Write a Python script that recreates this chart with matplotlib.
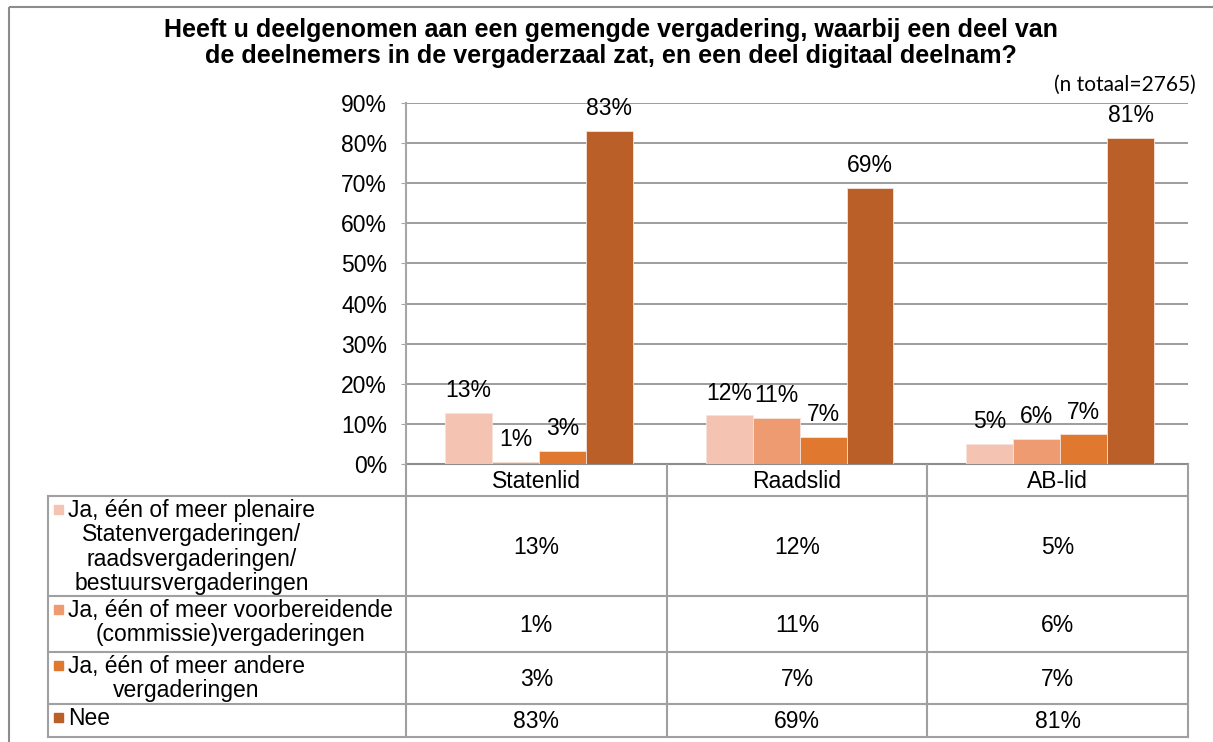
import matplotlib

matplotlib.use("Agg")
import matplotlib.pyplot as plt
import numpy as np
from matplotlib.patches import Rectangle

plt.rcParams["font.family"] = ["Liberation Sans", "DejaVu Sans"]

# data
categories = ["Statenlid", "Raadslid", "AB-lid"]
series_names = [
    "Ja, één of meer plenaire\nStatenvergaderingen/\nraadsvergaderingen/\nbestuursvergaderingen",
    "Ja, één of meer voorbereidende\n(commissie)vergaderingen",
    "Ja, één of meer andere\nvergaderingen",
    "Nee",
]
plenair = [12.7, 12.1, 5.0]
voorbereidend = [0.6, 11.5, 6.2]
andere = [3.2, 6.8, 7.4]
nee = [83.0, 68.9, 81.3]
labels_plenair = ["13%", "12%", "5%"]
labels_voorbereidend = ["1%", "11%", "6%"]
labels_andere = ["3%", "7%", "7%"]
labels_nee = ["83%", "69%", "81%"]
colors = ["#F5C3B1", "#EF9B72", "#E0782F", "#B95F27"]
yticks = [0, 10, 20, 30, 40, 50, 60, 70, 80, 90]

W, H = 1213, 742
fs = 16.5
fig = plt.figure(figsize=(W / 100, H / 100), dpi=100)

# pixel overlay for table, frame and texts
ov = fig.add_axes([0, 0, 1, 1])
ov.set_xlim(0, W)
ov.set_ylim(H, 0)
ov.axis("off")

x0, x1 = 406, 1188
y0, ytop = 464, 103
ax = fig.add_axes([x0 / W, (H - y0) / H, (x1 - x0) / W, (y0 - ytop) / H])

series = [plenair, voorbereidend, andere, nee]
series_labels = [labels_plenair, labels_voorbereidend, labels_andere, labels_nee]
x = np.arange(len(categories))
bw = 0.18
for i, (vals, labs) in enumerate(zip(series, series_labels)):
    xs = x + (i - 1.5) * bw + 0.01
    bars = ax.bar(xs, vals, width=bw, color=colors[i], edgecolor="#F7E3DA",
                  linewidth=0.6, zorder=3)
    for b, lab in zip(bars, labs):
        ax.annotate(lab, (b.get_x() + b.get_width() / 2, b.get_height()),
                    xytext=(0, 16), textcoords="offset points",
                    ha="center", va="center", fontsize=fs, zorder=4)

ax.set_xlim(-0.5, 2.5)
ax.set_ylim(0, 90)
ax.set_yticks(yticks)
ax.set_yticklabels([f"{t}%" for t in yticks], fontsize=fs)
ax.set_xticks([])
ax.grid(axis="y", color="#8C8C8C", linewidth=1.2, zorder=0)
for s in ["top", "right", "bottom"]:
    ax.spines[s].set_visible(False)
ax.spines["left"].set_color("#A6A6A6")
ax.spines["left"].set_linewidth(1.5)
ax.tick_params(axis="y", length=3.6, color="#A6A6A6", pad=10)
ax.set_facecolor("none")

# outer frame
ov.add_patch(Rectangle((8.5, 6.5), 1300, 800, fill=False, edgecolor="#8C8C8C", linewidth=1.5))

# title
ov.text(611, 43, "Heeft u deelgenomen aan een gemengde vergadering, waarbij een deel van\n"
        "de deelnemers in de vergaderzaal zat, en een deel digitaal deelnam?",
        ha="center", va="center", fontsize=18, fontweight="bold", linespacing=1.1)
ov.text(1196, 85, "(n totaal=2765)", ha="right", va="center", fontsize=15,
        family=["Lato", "DejaVu Sans"])

# data table
lc = "#A0A0A0"
col_x = [x0 + k * (x1 - x0) / 3 for k in range(4)]
rows = [464, 496, 596, 652, 704, 737]
tl = 48
ov.plot([x0, x1], [rows[0], rows[0]], color="#8C8C8C", lw=1.5)
for r in rows[1:]:
    ov.plot([tl, x1], [r, r], color=lc, lw=1.5)
ov.plot([tl, tl], [rows[1], rows[-1]], color=lc, lw=1.5)
for cx in col_x:
    ov.plot([cx, cx], [rows[0], rows[-1]], color=lc, lw=1.5)

for k, cat in enumerate(categories):
    ov.text((col_x[k] + col_x[k + 1]) / 2, (rows[0] + rows[1]) / 2 + 1, cat,
            ha="center", va="center", fontsize=fs)

for i, name in enumerate(series_names):
    ymid = (rows[i + 1] + rows[i + 2]) / 2
    ov.add_patch(Rectangle((54, rows[i + 1] + 9), 9, 9, color=colors[i]))
    ov.text(68, rows[i + 1] + 3, name, ha="left", va="top", multialignment="center",
            fontsize=fs, linespacing=1.08)
    for k in range(3):
        ov.text((col_x[k] + col_x[k + 1]) / 2, ymid + 1, series_labels[i][k],
                ha="center", va="center", fontsize=fs)

fig.savefig("out.png", dpi=100)
